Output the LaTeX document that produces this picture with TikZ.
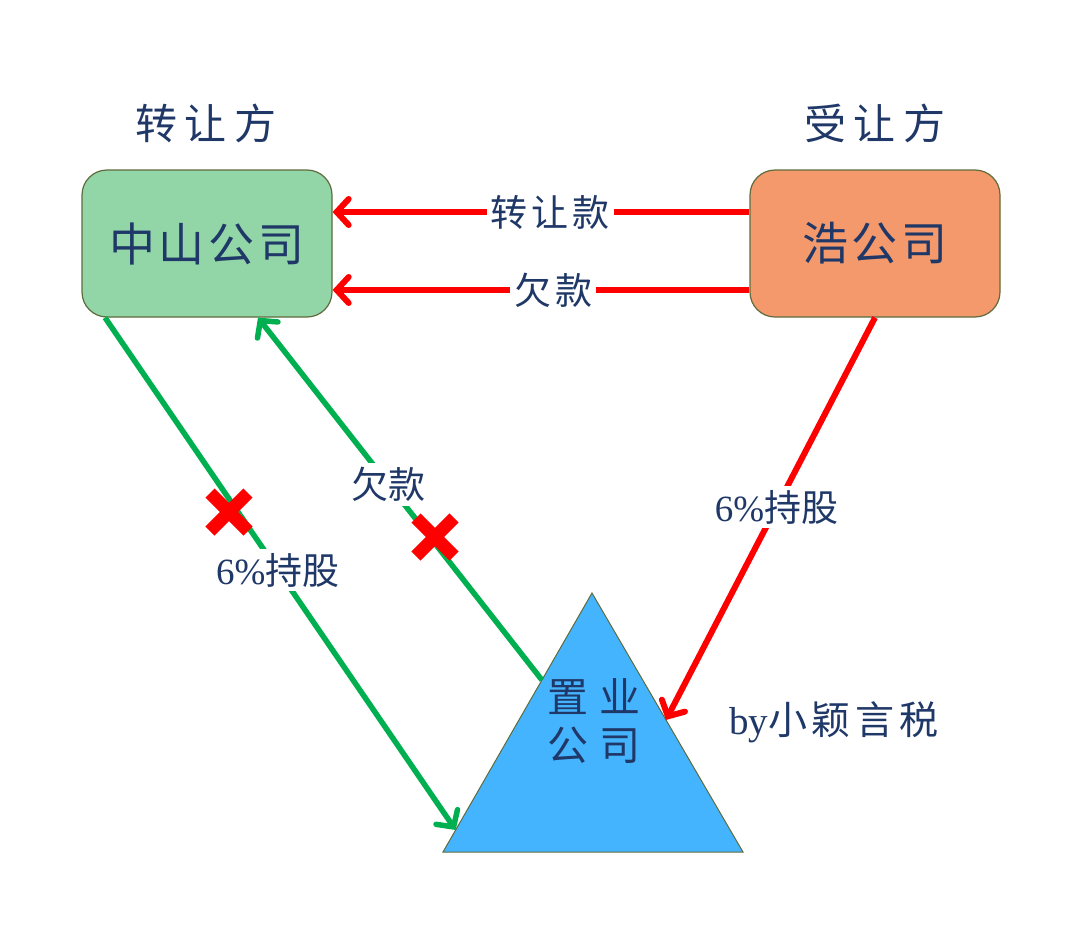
\documentclass[tikz,border=0pt]{standalone}
\usepackage{fontspec}
\setmainfont{Liberation Serif}
\newfontfamily\cjk{Noto Sans CJK SC}
\usetikzlibrary{arrows.meta,calc}
\definecolor{navy}{HTML}{1F3868}
\definecolor{boxline}{HTML}{5E6B3C}
\definecolor{greenfill}{HTML}{92D6A8}
\definecolor{orangefill}{HTML}{F4996B}
\definecolor{triblue}{HTML}{45B4FF}
\definecolor{linegreen}{HTML}{00B050}
\definecolor{linered}{HTML}{FF0000}
\newcommand{\gp}[1]{\hspace{#1pt}}
\begin{document}
\begin{tikzpicture}[x=1pt,y=-1pt,
  txt/.style={text=navy,inner sep=0pt},
  box/.style={draw=boxline,line width=1.2pt,rounded corners=25pt,minimum width=250pt,minimum height=147pt,text=navy,font=\cjk\fontsize{46}{50}\selectfont},
  redline/.style={draw=linered,line width=6pt},
  greenline/.style={draw=linegreen,line width=5.5pt},
  tip/.style={-{Straight Barb[length=12pt,width=26pt,line cap=round]}},
  lab/.style={fill=white,text=navy,inner sep=4pt,font=\fontsize{37}{40}\selectfont},
  cross/.style={draw=linered,line width=13pt}]
\useasboundingbox (0,0) rectangle (1080,934);
% titles
\node[txt,font=\cjk\fontsize{42}{46}\selectfont] (t1) at (206,123) {转\gp{8}让\gp{8}方};
\node[txt,font=\cjk\fontsize{42}{46}\selectfont] (t2) at (875,123) {受\gp{8}让\gp{8}方};
% boxes
\node[box,fill=greenfill] (zs) at (207,243.5) {中\gp{4}山\gp{4}公\gp{4}司};
\node[box,fill=orangefill] (hao) at (875,243.5) {浩\gp{4}公\gp{4}司};
% triangle
\coordinate (A) at (592,593);
\coordinate (B) at (443,852);
\coordinate (C) at (743,852);
\draw[fill=triblue,draw=boxline,line width=1pt] (A) -- (B) -- (C) -- cycle;
\node[txt,align=center,font=\cjk\fontsize{41}{48}\selectfont] (zy) at (594,721) {置\gp{11}业\\公\gp{11}司};
\coordinate (gtip) at ($(A)!0.915!(B)$);
\coordinate (gstart) at ($(A)!0.336!(B)$);
\coordinate (rtip) at ($(A)!0.49!(C)$);
% red horizontal arrows
\draw[redline,tip] (hao.west |- 0,212) -- (zs.east |- 0,212)
  node[lab,pos=0.478] {\cjk 转\gp{4}让\gp{4}款};
\draw[redline,tip] (hao.west |- 0,290) -- (zs.east |- 0,290)
  node[lab,pos=0.471] {\cjk 欠\gp{4}款};
% green arrows
\draw[greenline,tip] (105,0 |- zs.south) -- (gtip)
  node[lab,pos=0.493] {6\%{\cjk 持股}};
\draw[greenline,tip] (gstart) -- (258,0 |- zs.south)
  node[lab,pos=0.539] {\cjk 欠款};
% red diagonal arrow
\draw[redline,tip] (875,0 |- hao.south) -- (rtip)
  node[lab,pos=0.471] {6\%{\cjk 持股}};
% crosses
\coordinate (x1) at (229,512);
\coordinate (x2) at (435,537);
\draw[cross] ($(x1)+(-19,-19)$) -- ($(x1)+(19,19)$);
\draw[cross] ($(x1)+(-19,19)$) -- ($(x1)+(19,-19)$);
\draw[cross] ($(x2)+(-19,-19)$) -- ($(x2)+(19,19)$);
\draw[cross] ($(x2)+(-19,19)$) -- ($(x2)+(19,-19)$);
% signature
\node[txt,font=\fontsize{39}{42}\selectfont] (by) at (834,722) {by{\cjk 小\gp{5}颖\gp{5}言\gp{5}税}};
\end{tikzpicture}
\end{document}
